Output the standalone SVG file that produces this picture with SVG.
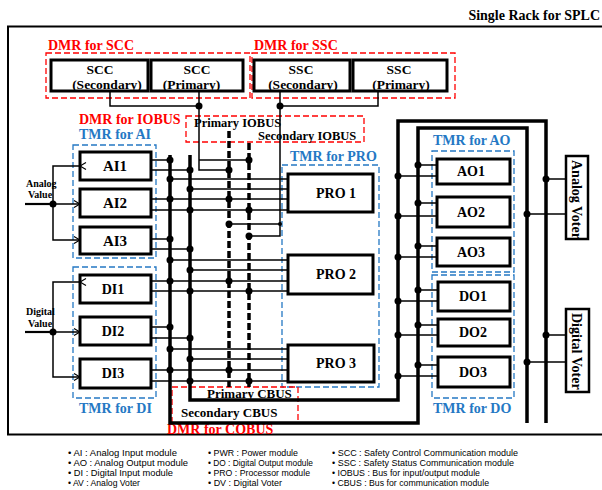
<svg xmlns="http://www.w3.org/2000/svg" width="602" height="490" viewBox="0 0 602 490">
<style>
.t{font-family:"Liberation Serif","Times New Roman",serif;font-weight:bold;fill:#000}
.r{fill:#FF0000}
.b{fill:#2478C4}
.box{fill:none;stroke:#000;stroke-width:3}
.rd{fill:none;stroke:#FF0000;stroke-width:1.3;stroke-dasharray:6 3}
.bd{fill:none;stroke:#2478C4;stroke-width:1.3;stroke-dasharray:6 3}
.w{fill:none;stroke:#000;stroke-width:1.5}
.bus{fill:none;stroke:#000;stroke-width:3.5}
.dbus{fill:none;stroke:#000;stroke-width:3.5;stroke-dasharray:7 3}
.dot{fill:#000}
.lg{font-family:"Liberation Sans",Arial,sans-serif;font-size:9px;fill:#000}
</style>
<defs>
<marker id="arr" markerWidth="8" markerHeight="8" refX="7" refY="4" orient="auto" markerUnits="userSpaceOnUse">
<polyline points="1,0.5 7,4 1,7.5" fill="none" stroke="#000" stroke-width="1.2"/>
</marker>
</defs>
<rect width="602" height="490" fill="#fff"/>
<text class="t" x="600" y="20" font-size="14" text-anchor="end">Single Rack for SPLC</text>
<rect x="8" y="26.5" width="610" height="408" fill="none" stroke="#000" stroke-width="2"/>

<g id="groups">
<text class="t r" x="48" y="50" font-size="14">DMR for SCC</text>
<rect class="rd" x="46" y="53" width="204" height="45"/>
<text class="t r" x="254" y="50" font-size="14">DMR for SSC</text>
<rect class="rd" x="252" y="53" width="203" height="45"/>
<text class="t r" x="79" y="124" font-size="14">DMR for IOBUS</text>
<rect class="rd" x="186" y="116" width="178" height="26"/>
<text class="t" x="194" y="126.5" font-size="12.5">Primary IOBUS</text>
<text class="t" x="258" y="140" font-size="12.5">Secondary IOBUS</text>
<text class="t b" x="79" y="139" font-size="14">TMR for AI</text>
<rect class="bd" x="73" y="145" width="83" height="113"/>
<text class="t b" x="79" y="413" font-size="14">TMR for DI</text>
<rect class="bd" x="73" y="267" width="83" height="131"/>
<text class="t b" x="290" y="161" font-size="14">TMR for PRO</text>
<rect class="bd" x="282" y="165" width="97" height="222"/>
<text class="t b" x="433" y="145" font-size="14">TMR for AO</text>
<rect class="bd" x="432" y="151" width="82" height="121"/>
<text class="t b" x="433" y="413" font-size="14">TMR for DO</text>
<rect class="bd" x="432" y="275" width="82" height="123"/>
<rect class="rd" x="172" y="387" width="126" height="36"/>
<text class="t" x="207" y="398" font-size="13">Primary CBUS</text>
<text class="t" x="181" y="417" font-size="13">Secondary CBUS</text>
<text class="t r" x="167" y="434" font-size="14">DMR for COBUS</text>
<text class="t" x="26" y="187" font-size="10">Analog</text>
<text class="t" x="28" y="198" font-size="10">Value</text>
<text class="t" x="26" y="315" font-size="10">Digital</text>
<text class="t" x="28" y="327" font-size="10">Value</text>
</g>

<g id="connectors">
<polyline class="w" points="110,91 110,106 199,106"/>
<polyline class="w" points="199,91 199,170 229,170"/>
<line class="w" x1="199" y1="160" x2="249" y2="160"/>
<polyline class="w" points="378,91 378,106 280,106"/>
<polyline class="w" points="280,91 280,236 249,236"/>
<line class="w" x1="229" y1="224" x2="280" y2="224"/>
<line class="dbus" x1="229" y1="131" x2="229" y2="387"/>
<line class="dbus" x1="249" y1="143" x2="249" y2="387"/>
<polyline class="bus" points="170,155 170,423 418,423 418,128 527,128 527,423"/>
<polyline class="bus" points="190,155 190,400 398,400 398,121 546,121 546,423"/>
<line x1="25" y1="204" x2="53" y2="204" stroke="#000" stroke-width="2.2"/>
<polyline class="w" points="80,166 53,166 53,240 80,240" marker-start="url(#arr)" marker-end="url(#arr)"/>
<line class="w" x1="53" y1="204" x2="80" y2="204" marker-end="url(#arr)"/>
<line x1="25" y1="332" x2="53" y2="332" stroke="#000" stroke-width="2.2"/>
<polyline class="w" points="80,282 53,282 53,377 80,377" marker-start="url(#arr)" marker-end="url(#arr)"/>
<line class="w" x1="53" y1="332" x2="80" y2="332" marker-end="url(#arr)"/>
<g class="w">
<line x1="151" y1="160" x2="170" y2="160"/>
<line x1="151" y1="170" x2="190" y2="170"/>
<line x1="170" y1="179" x2="288" y2="179"/>
<line x1="190" y1="189" x2="288" y2="189"/>
<line x1="151" y1="199" x2="288" y2="199"/>
<line x1="151" y1="210" x2="288" y2="210"/>
<line x1="151" y1="239" x2="170" y2="239"/>
<line x1="151" y1="249" x2="190" y2="249"/>
<line x1="170" y1="260" x2="288" y2="260"/>
<line x1="190" y1="270" x2="288" y2="270"/>
<line x1="151" y1="281" x2="288" y2="281"/>
<line x1="151" y1="291" x2="288" y2="291"/>
<line x1="151" y1="327" x2="170" y2="327"/>
<line x1="151" y1="338" x2="190" y2="338"/>
<line x1="170" y1="349" x2="288" y2="349"/>
<line x1="190" y1="359" x2="288" y2="359"/>
<line x1="151" y1="370" x2="288" y2="370"/>
<line x1="151" y1="381" x2="288" y2="381"/>
<line x1="418" y1="165" x2="437" y2="165"/>
<line x1="398" y1="176" x2="437" y2="176"/>
<line x1="418" y1="203" x2="437" y2="203"/>
<line x1="398" y1="216" x2="437" y2="216"/>
<line x1="418" y1="246" x2="437" y2="246"/>
<line x1="398" y1="257" x2="437" y2="257"/>
<line x1="418" y1="290" x2="437" y2="290"/>
<line x1="398" y1="301" x2="437" y2="301"/>
<line x1="418" y1="325" x2="437" y2="325"/>
<line x1="398" y1="335" x2="437" y2="335"/>
<line x1="418" y1="365" x2="437" y2="365"/>
<line x1="398" y1="376" x2="437" y2="376"/>
<line x1="546" y1="179" x2="566" y2="179"/>
<line x1="527" y1="214" x2="566" y2="214"/>
<line x1="546" y1="335" x2="566" y2="335"/>
<line x1="527" y1="362" x2="566" y2="362"/>
</g>
<g class="dot">
<circle cx="199" cy="106" r="3.5"/><circle cx="280" cy="106" r="3.5"/>
<circle cx="53" cy="204" r="3.5"/><circle cx="53" cy="332" r="3.5"/>
<circle cx="249" cy="160" r="3.5"/><circle cx="229" cy="170" r="3.5"/>
<circle cx="229" cy="199" r="3.5"/><circle cx="249" cy="210" r="3.5"/>
<circle cx="229" cy="224" r="3.5"/><circle cx="249" cy="236" r="3.5"/>
<circle cx="280" cy="224" r="2"/>
<circle cx="229" cy="281" r="3.5"/><circle cx="249" cy="291" r="3.5"/>
<circle cx="229" cy="370" r="3.5"/><circle cx="249" cy="381" r="3.5"/>
<circle cx="170" cy="160" r="3.5"/><circle cx="170" cy="179" r="3.5"/><circle cx="170" cy="199" r="3.5"/>
<circle cx="170" cy="239" r="3.5"/><circle cx="170" cy="260" r="3.5"/><circle cx="170" cy="281" r="3.5"/>
<circle cx="170" cy="327" r="3.5"/><circle cx="170" cy="349" r="3.5"/><circle cx="170" cy="370" r="3.5"/>
<circle cx="190" cy="170" r="3.5"/><circle cx="190" cy="189" r="3.5"/><circle cx="190" cy="210" r="3.5"/>
<circle cx="190" cy="249" r="3.5"/><circle cx="190" cy="270" r="3.5"/><circle cx="190" cy="291" r="3.5"/>
<circle cx="190" cy="338" r="3.5"/><circle cx="190" cy="359" r="3.5"/><circle cx="190" cy="381" r="3.5"/>
<circle cx="418" cy="165" r="3.5"/><circle cx="398" cy="176" r="3.5"/>
<circle cx="418" cy="203" r="3.5"/><circle cx="398" cy="216" r="3.5"/>
<circle cx="418" cy="246" r="3.5"/><circle cx="398" cy="257" r="3.5"/>
<circle cx="418" cy="290" r="3.5"/><circle cx="398" cy="301" r="3.5"/>
<circle cx="418" cy="325" r="3.5"/><circle cx="398" cy="335" r="3.5"/>
<circle cx="418" cy="365" r="3.5"/><circle cx="398" cy="376" r="3.5"/>
<circle cx="546" cy="179" r="3.5"/><circle cx="527" cy="214" r="3.5"/>
<circle cx="546" cy="335" r="3.5"/><circle cx="527" cy="362" r="3.5"/>
</g>
</g>

<g id="scc-secondary"><text class="t" x="100" y="73.5" font-size="13.5" text-anchor="middle">SCC</text><text class="t" x="107" y="89" font-size="13.5" text-anchor="middle">(Secondary)</text><rect class="box" x="51" y="60" width="97" height="31"/></g>
<g id="scc-primary"><text class="t" x="197" y="73.5" font-size="13.5" text-anchor="middle">SCC</text><text class="t" x="191.5" y="89" font-size="13.5" text-anchor="middle">(Primary)</text><rect class="box" x="151" y="60" width="92" height="31"/></g>
<g id="ssc-secondary"><text class="t" x="301" y="73.5" font-size="13.5" text-anchor="middle">SSC</text><text class="t" x="303" y="89" font-size="13.5" text-anchor="middle">(Secondary)</text><rect class="box" x="254" y="60" width="96" height="31"/></g>
<g id="ssc-primary"><text class="t" x="399" y="73.5" font-size="13.5" text-anchor="middle">SSC</text><text class="t" x="401" y="89" font-size="13.5" text-anchor="middle">(Primary)</text><rect class="box" x="353" y="60" width="94" height="31"/></g>

<g id="ai1"><rect class="box" x="80" y="152" width="71" height="28"/><text class="t" x="115" y="171" font-size="15" text-anchor="middle">AI1</text></g>
<g id="ai2"><rect class="box" x="80" y="189" width="71" height="28"/><text class="t" x="115" y="208" font-size="15" text-anchor="middle">AI2</text></g>
<g id="ai3"><rect class="box" x="80" y="227" width="71" height="27"/><text class="t" x="115" y="246" font-size="15" text-anchor="middle">AI3</text></g>
<g id="di1"><rect class="box" x="80" y="275" width="71" height="28"/><text class="t" x="113" y="294" font-size="14" text-anchor="middle">DI1</text></g>
<g id="di2"><rect class="box" x="80" y="317" width="71" height="28"/><text class="t" x="113" y="336" font-size="14" text-anchor="middle">DI2</text></g>
<g id="di3"><rect class="box" x="80" y="359" width="71" height="29"/><text class="t" x="113" y="378" font-size="14" text-anchor="middle">DI3</text></g>

<g id="pro1"><rect class="box" x="288" y="174" width="85" height="38"/><text class="t" x="336" y="198" font-size="14" text-anchor="middle">PRO 1</text></g>
<g id="pro2"><rect class="box" x="288" y="255" width="85" height="39"/><text class="t" x="336" y="279" font-size="14" text-anchor="middle">PRO 2</text></g>
<g id="pro3"><rect class="box" x="288" y="345" width="86" height="37"/><text class="t" x="336" y="368" font-size="14" text-anchor="middle">PRO 3</text></g>

<g id="ao1"><rect class="box" x="437" y="159" width="73" height="25"/><text class="t" x="471" y="176" font-size="14" text-anchor="middle">AO1</text></g>
<g id="ao2"><rect class="box" x="437" y="197" width="73" height="30"/><text class="t" x="471" y="217" font-size="14" text-anchor="middle">AO2</text></g>
<g id="ao3"><rect class="box" x="437" y="238" width="73" height="28"/><text class="t" x="471" y="257" font-size="14" text-anchor="middle">AO3</text></g>
<g id="do1"><rect class="box" x="438" y="282" width="72" height="29"/><text class="t" x="473" y="301" font-size="14" text-anchor="middle">DO1</text></g>
<g id="do2"><rect class="box" x="438" y="319" width="72" height="27"/><text class="t" x="473" y="337" font-size="14" text-anchor="middle">DO2</text></g>
<g id="do3"><rect class="box" x="438" y="357" width="72" height="30"/><text class="t" x="473" y="377" font-size="14" text-anchor="middle">DO3</text></g>

<g id="analog-voter"><text class="t" font-size="14" transform="translate(572,160) rotate(90)">Analog Voter</text><rect x="566" y="156" width="22" height="83" fill="none" stroke="#000" stroke-width="2.5"/></g>
<g id="digital-voter"><text class="t" font-size="14" transform="translate(572,313) rotate(90)">Digital Voter</text><rect x="566" y="309" width="23" height="83" fill="none" stroke="#000" stroke-width="2.5"/></g>

<g id="legend">
<text class="lg" x="68" y="456" textLength="109" lengthAdjust="spacingAndGlyphs">• AI : Analog Input module</text>
<text class="lg" x="68" y="466" textLength="120" lengthAdjust="spacingAndGlyphs">• AO : Analog Output module</text>
<text class="lg" x="68" y="476" textLength="105" lengthAdjust="spacingAndGlyphs">• DI : Digital Input module</text>
<text class="lg" x="68" y="486" textLength="72" lengthAdjust="spacingAndGlyphs">• AV : Analog Voter</text>
<text class="lg" x="208" y="456" textLength="90" lengthAdjust="spacingAndGlyphs">• PWR : Power module</text>
<text class="lg" x="208" y="466" textLength="105" lengthAdjust="spacingAndGlyphs">• DO : Digital Output module</text>
<text class="lg" x="208" y="476" textLength="102" lengthAdjust="spacingAndGlyphs">• PRO : Processor module</text>
<text class="lg" x="208" y="486" textLength="74" lengthAdjust="spacingAndGlyphs">• DV : Digital Voter</text>
<text class="lg" x="332" y="456" textLength="186" lengthAdjust="spacingAndGlyphs">• SCC : Safety Control Communication module</text>
<text class="lg" x="332" y="466" textLength="182" lengthAdjust="spacingAndGlyphs">• SSC : Safety Status Communication module</text>
<text class="lg" x="332" y="476" textLength="148" lengthAdjust="spacingAndGlyphs">• IOBUS : Bus for input/output module</text>
<text class="lg" x="332" y="486" textLength="157" lengthAdjust="spacingAndGlyphs">• CBUS : Bus for communication module</text>
</g>
</svg>
